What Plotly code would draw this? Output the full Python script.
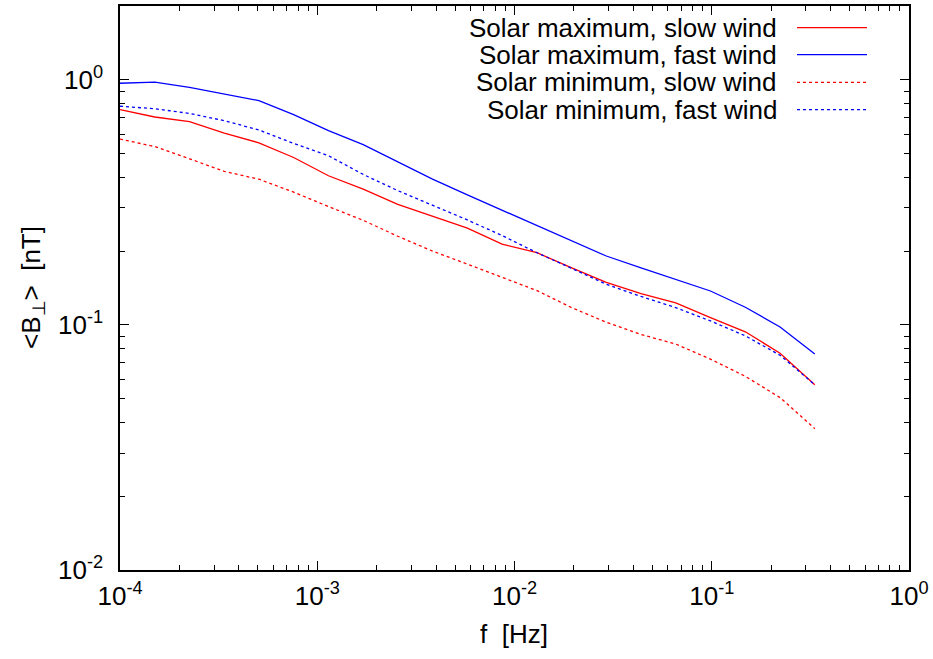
import plotly.graph_objects as go

# Frequencies [Hz]
freq = [1.0e-4, 1.5e-4, 2.25e-4, 3.38e-4, 5.06e-4, 7.59e-4, 1.14e-3, 1.71e-3,
        2.56e-3, 3.84e-3, 5.77e-3, 8.65e-3, 1.30e-2, 1.95e-2, 2.92e-2, 4.38e-2,
        6.57e-2, 9.85e-2, 0.148, 0.222, 0.333]

max_slow = [0.755, 0.705, 0.675, 0.606, 0.553, 0.482, 0.406, 0.358, 0.310, 0.278,
            0.248, 0.2135, 0.197, 0.171, 0.149, 0.134, 0.123, 0.107, 0.0937, 0.0766, 0.0570]
max_fast = [0.968, 0.979, 0.932, 0.873, 0.822, 0.721, 0.620, 0.544, 0.462, 0.393,
            0.339, 0.294, 0.254, 0.2195, 0.191, 0.171, 0.153, 0.1375, 0.118, 0.0981, 0.0760]
min_slow = [0.573, 0.534, 0.476, 0.423, 0.393, 0.348, 0.304, 0.267, 0.230, 0.200,
            0.177, 0.156, 0.138, 0.1176, 0.1025, 0.0914, 0.0835, 0.0725, 0.0617, 0.0505, 0.0377]
min_fast = [0.780, 0.762, 0.729, 0.681, 0.624, 0.550, 0.490, 0.411, 0.353, 0.3075,
            0.268, 0.2315, 0.197, 0.170, 0.1466, 0.1306, 0.1176, 0.1038, 0.0902, 0.0752, 0.0570]

names = ["Solar maximum, slow wind", "Solar maximum, fast wind",
         "Solar minimum, slow wind", "Solar minimum, fast wind"]
colors = ["#ff0000", "#0000ff", "#ff0000", "#0000ff"]
dashes = ["solid", "solid", "3px,3px", "3px,3px"]
series = [max_slow, max_fast, min_slow, min_fast]

xtickvals = [1e-4, 1e-3, 1e-2, 1e-1, 1]
xticktext = ["10<sup>-4</sup>", "10<sup>-3</sup>", "10<sup>-2</sup>", "10<sup>-1</sup>", "10<sup>0</sup>"]
ytickvals = [1e-2, 1e-1, 1]
yticktext = ["10<sup>-2</sup>", "10<sup>-1</sup>", "10<sup>0</sup>"]

x_minor = [m * d for d in [1e-4, 1e-3, 1e-2, 1e-1] for m in range(2, 10)]
y_minor = [m * d for d in [1e-2, 1e-1, 1] for m in range(2, 10)]

FONT = "Liberation Sans, Arial, sans-serif"
FS = 26
W, H = 933, 659
L, R, T, B = 120, 24, 4, 89
pw, ph = W - L - R, H - T - B

def px(x):
    return (x - L) / pw

def py(y):
    return (H - B - y) / ph

fig = go.Figure()
for s, n, c, d in zip(series, names, colors, dashes):
    fig.add_trace(go.Scatter(x=freq, y=s, mode="lines", name=n,
                             line=dict(color=c, width=1.3, dash=d)))

axis_common = dict(
    showline=True, linecolor="black", linewidth=1.5, mirror="allticks",
    ticks="inside", ticklen=9, tickwidth=1.2, tickcolor="black",
    showgrid=False, zeroline=False,
    tickfont=dict(family=FONT, size=FS, color="black"),
)

fig.update_xaxes(type="log", range=[-4, 0], tickvals=xtickvals, ticktext=xticktext,
                 ticklabelstandoff=2,
                 minor=dict(tickmode="array", tickvals=x_minor, ticks="inside", ticklen=5,
                            tickwidth=1, tickcolor="black", showgrid=False),
                 **axis_common)
fig.update_yaxes(type="log", range=[-2, 0.30103], tickvals=ytickvals, ticktext=yticktext,
                 ticklabelstandoff=10,
                 minor=dict(tickmode="array", tickvals=y_minor, ticks="inside", ticklen=5,
                            tickwidth=1, tickcolor="black", showgrid=False),
                 **axis_common)

# Legend (gnuplot style: text then sample on the right)
row_y = [25.7, 52.7, 80.7, 108]
for n, c, d, yy in zip(names, colors, dashes, row_y):
    fig.add_annotation(xref="paper", yref="paper", x=px(779), y=py(yy), text=n,
                       showarrow=False, xanchor="right", yanchor="middle",
                       font=dict(family=FONT, size=FS, color="black"))
    fig.add_shape(type="line", xref="paper", yref="paper",
                  x0=px(797), x1=px(867), y0=py(yy), y1=py(yy),
                  line=dict(color=c, width=1.3, dash=d))

fig.add_annotation(xref="paper", yref="paper", x=px(514), y=py(634), text="f  [Hz]",
                   showarrow=False, xanchor="center", yanchor="middle",
                   font=dict(family=FONT, size=FS, color="black"))
fig.add_annotation(xref="paper", yref="paper", x=px(32), y=py(287),
                   text="&lt;B<sub>⊥</sub>&gt;  [nT]", textangle=-90,
                   showarrow=False, xanchor="center", yanchor="middle",
                   font=dict(family=FONT, size=FS, color="black"))

fig.update_layout(width=W, height=H, margin=dict(l=L, r=R, t=T, b=B),
                  paper_bgcolor="white", plot_bgcolor="white", showlegend=False)

fig.write_html("out.html")
